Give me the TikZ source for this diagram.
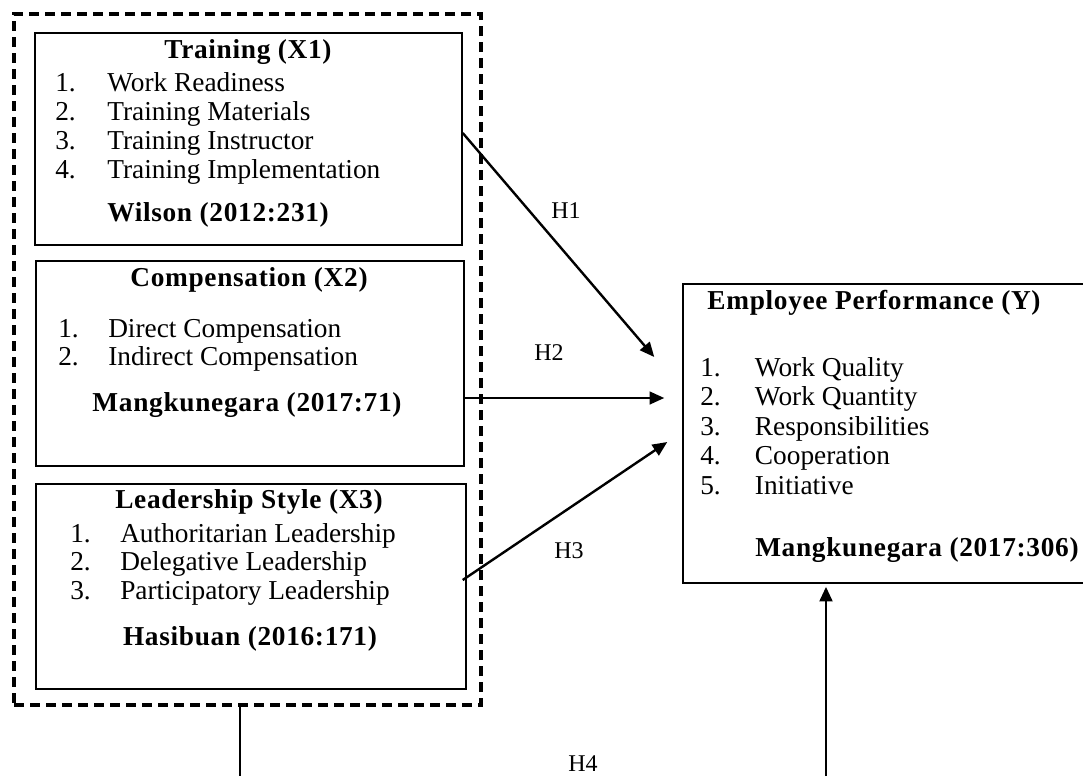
\documentclass[tikz,border=0pt]{standalone}
\usepackage{fontspec}
\setmainfont{Liberation Serif}
\usepackage{tikz}
\usetikzlibrary{arrows.meta,calc}
\newcommand{\bodysize}{\fontsize{20.5}{22}\selectfont}

\begin{document}
\begin{tikzpicture}[x=0.75pt,y=0.75pt,yscale=-1,xscale=1,
  box/.style={draw, line width=1.1pt, inner sep=0pt},
  grp/.style={draw, line width=2.6pt, dash pattern={on 7.5pt off 4.5pt}, inner sep=0pt},
  item/.style={anchor=base west, inner sep=0pt, font=\bodysize},
  head/.style={anchor=base, inner sep=0pt, font=\bodysize\bfseries\addfontfeature{LetterSpace=2.5}},
  hyp/.style={anchor=base, inner sep=0pt, font=\fontsize{18}{20}\selectfont},
  link/.style={line width=1.8pt, -{Triangle[length=11pt,width=9.5pt]}}]
\useasboundingbox (0,0) rectangle (1083,776);

%Dashed group [id:group]
\node (group) [grp, minimum width=350.25pt, minimum height=518.25pt] at (247.5,359.5) {};
%Shape: Rectangle [id:train]
\node (train) [box, minimum width=320.25pt, minimum height=159pt] at (248.5,139) {};
%Shape: Rectangle [id:comp]
\node (comp) [box, minimum width=321pt, minimum height=153.75pt] at (250,363.5) {};
%Shape: Rectangle [id:lead]
\node (lead) [box, minimum width=322.5pt, minimum height=153.75pt] at (251,586.5) {};
%Shape: Rectangle [id:perf]
\node (perf) [box, minimum width=306.75pt, minimum height=224.25pt] at (887.5,433.5) {};

% Text Node
\node (trainT) [head] at (248,58) {Training (X1)};
\node (train1) [item] at (55,91) {\makebox[39pt][l]{1.}Work Readiness};
\node (train2) [item] at (55,120) {\makebox[39pt][l]{2.}Training Materials};
\node (train3) [item] at (55,149) {\makebox[39pt][l]{3.}Training Instructor};
\node (train4) [item] at (55,178) {\makebox[39pt][l]{4.}Training Implementation};
\node (trainS) [head, anchor=base west] at (107,221) {Wilson (2012:231)};
% Text Node
\node (compT) [head] at (249,286) {Compensation (X2)};
\node (comp1) [item] at (58,337) {\makebox[37.5pt][l]{1.}Direct Compensation};
\node (comp2) [item] at (58,365) {\makebox[37.5pt][l]{2.}Indirect Compensation};
\node (compS) [head] at (247,411) {Mangkunegara (2017:71)};
% Text Node
\node (leadT) [head] at (249,508) {Leadership Style (X3)};
\node (lead1) [item] at (70,542) {\makebox[37.5pt][l]{1.}Authoritarian Leadership};
\node (lead2) [item] at (70,570) {\makebox[37.5pt][l]{2.}Delegative Leadership};
\node (lead3) [item] at (70,599) {\makebox[37.5pt][l]{3.}Participatory Leadership};
\node (leadS) [head] at (250,645) {Hasibuan (2016:171)};
% Text Node
\node (perfT) [head] at (874,309) {Employee Performance (Y)};
\node (perf1) [item] at (700,376) {\makebox[41pt][l]{1.}Work Quality};
\node (perf2) [item] at (700,405) {\makebox[41pt][l]{2.}Work Quantity};
\node (perf3) [item] at (700,435) {\makebox[41pt][l]{3.}Responsibilities};
\node (perf4) [item] at (700,464) {\makebox[41pt][l]{4.}Cooperation};
\node (perf5) [item] at (700,494) {\makebox[41pt][l]{5.}Initiative};
\node (perfS) [head, anchor=base west] at (755,556) {Mangkunegara (2017:306)};

%Straight Lines [id:H1]
\draw [link] ($(train.east)+(0,-6)$) -- ($(perf.west)+(-28,-76.5)$);
%Straight Lines [id:H2]
\draw [link] ($(comp.east)+(0,34.5)$) -- ($(perf.west)+(-18,-35.5)$);
%Straight Lines [id:H3]
\draw [link] ($(lead.east)+(-4,-6.5)$) -- ($(perf.west)+(-15,8.5)$);
%Straight Lines [id:H4]
\coordinate (h4a) at (240,776);
\coordinate (h4b) at (826,776);
\draw [line width=1.1pt] ($(group.south)+(-7.5,0)$) -- (h4a);
\draw [link, line width=2.2pt] (h4b) -- ($(perf.south)+(-61.5,3)$);

% Text Node
\node (h1) [hyp] at (566,218) {H1};
\node (h2) [hyp] at (549,360) {H2};
\node (h3) [hyp] at (569,558) {H3};
\node (h4) [hyp] at (583,771) {H4};

\end{tikzpicture}
\end{document}
